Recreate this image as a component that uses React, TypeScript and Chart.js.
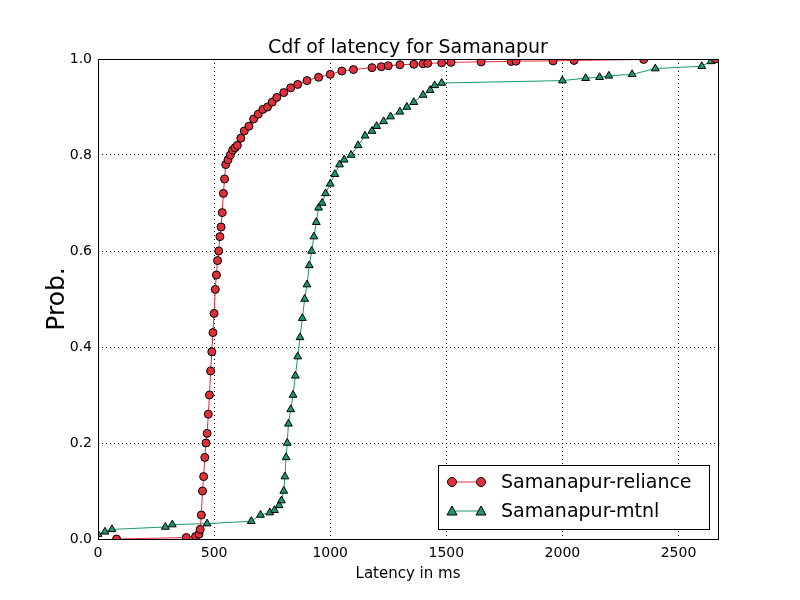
import React, { useEffect, useRef } from "react";
import { Chart, registerables } from "chart.js";
Chart.register(...registerables);

const relianceX = [80,380,420,435,440,445,450,455,460,465,470,475,480,485,490,495,500,505,510,515,520,525,530,535,540,545,550,560,570,580,590,600,615,630,650,670,690,710,730,750,770,800,830,860,900,950,1000,1050,1100,1180,1220,1250,1300,1360,1400,1420,1480,1520,1650,1780,1800,1960,2050,2350,2660];
const relianceY = [0,0.003,0.005,0.01,0.02,0.05,0.1,0.13,0.17,0.2,0.22,0.26,0.3,0.35,0.39,0.43,0.47,0.52,0.55,0.58,0.6,0.63,0.65,0.68,0.72,0.75,0.78,0.79,0.8,0.81,0.815,0.82,0.835,0.85,0.86,0.875,0.885,0.895,0.9,0.91,0.92,0.93,0.94,0.947,0.955,0.962,0.968,0.975,0.978,0.982,0.984,0.986,0.988,0.989,0.99,0.991,0.992,0.993,0.994,0.995,0.9955,0.996,0.997,0.999,1.0];
const mtnlX = [0,30,60,290,320,470,660,700,740,760,780,790,800,805,810,815,820,830,840,850,860,870,880,890,900,910,920,930,940,950,965,980,1000,1020,1040,1060,1090,1120,1150,1180,1200,1230,1260,1300,1330,1360,1400,1430,1450,1480,2000,2100,2160,2200,2300,2400,2600,2640,2660];
const mtnlY = [0.01,0.015,0.02,0.025,0.03,0.032,0.037,0.05,0.055,0.06,0.07,0.08,0.1,0.13,0.17,0.2,0.24,0.27,0.3,0.34,0.38,0.42,0.46,0.5,0.53,0.57,0.6,0.63,0.66,0.69,0.7,0.72,0.74,0.76,0.78,0.79,0.8,0.82,0.84,0.85,0.86,0.87,0.88,0.89,0.9,0.91,0.925,0.935,0.945,0.95,0.955,0.96,0.962,0.965,0.968,0.98,0.985,0.995,1.0];
const xTicks = [0,500,1000,1500,2000,2500];
const RED = "#e0303c";
const GREEN = "#1a9a6a";
const FONT = "'DejaVu Sans', sans-serif";

const toPts = (xs: number[], ys: number[]) => xs.map((x, i) => ({ x, y: ys[i] }));

const overlay = {
  id: "overlay",
  afterDraw(chart: any) {
    const ctx = chart.ctx;
    const a = chart.chartArea;
    ctx.save();
    ctx.fillStyle = "#000";
    ctx.font = `19px ${FONT}`;
    ctx.textAlign = "center";
    ctx.textBaseline = "alphabetic";
    ctx.fillText("Cdf of latency for Samanapur", (a.left + a.right) / 2, 53);
    ctx.strokeStyle = "#000";
    ctx.lineWidth = 1;
    ctx.strokeRect(a.left + 0.5, a.top + 0.5, a.right - a.left, a.bottom - a.top);
    const lx = 438, ly = 465, lw = 271, lh = 64;
    ctx.fillStyle = "#fff";
    ctx.fillRect(lx, ly, lw, lh);
    ctx.strokeRect(lx + 0.5, ly + 0.5, lw, lh);
    const items = [
      { label: "Samanapur-reliance", color: RED, shape: "circle", y: 482 },
      { label: "Samanapur-mtnl", color: GREEN, shape: "triangle", y: 511 },
    ];
    for (const it of items) {
      ctx.strokeStyle = it.color;
      ctx.beginPath();
      ctx.moveTo(452, it.y);
      ctx.lineTo(481, it.y);
      ctx.stroke();
      for (const mx of [452, 481]) {
        ctx.fillStyle = it.color;
        ctx.strokeStyle = "#000";
        ctx.beginPath();
        if (it.shape === "circle") ctx.arc(mx, it.y, 4.5, 0, Math.PI * 2);
        else { ctx.moveTo(mx, it.y - 5); ctx.lineTo(mx + 5, it.y + 4); ctx.lineTo(mx - 5, it.y + 4); ctx.closePath(); }
        ctx.fill();
        ctx.stroke();
      }
      ctx.fillStyle = "#000";
      ctx.font = `19px ${FONT}`;
      ctx.textAlign = "left";
      ctx.textBaseline = "middle";
      ctx.fillText(it.label, 501, it.y + 1);
    }
    ctx.restore();
  },
};

export default function App() {
  const ref = useRef<HTMLCanvasElement>(null);
  useEffect(() => {
    document.body.style.margin = "0";
    const chart = new Chart(ref.current!, {
      type: "line",
      data: {
        datasets: [
          { label: "Samanapur-reliance", data: toPts(relianceX, relianceY), borderColor: RED, backgroundColor: RED, pointBorderColor: "#000", pointRadius: 4, pointBorderWidth: 1, borderWidth: 1, pointStyle: "circle" },
          { label: "Samanapur-mtnl", data: toPts(mtnlX, mtnlY), borderColor: GREEN, backgroundColor: GREEN, pointBorderColor: "#000", pointRadius: 4.5, pointBorderWidth: 1, borderWidth: 1, pointStyle: "triangle" },
        ],
      },
      options: {
        animation: false,
        responsive: false,
        layout: { padding: { top: 59, right: 82, left: 38, bottom: 13 } },
        plugins: { legend: { display: false }, tooltip: { enabled: false } },
        scales: {
          x: {
            type: "linear", min: 0, max: 2670,
            afterBuildTicks: (s: any) => { s.ticks = xTicks.map((v) => ({ value: v })); },
            afterFit: (s: any) => { s.height = 48; },
            grid: { color: "#000", drawTicks: false },
            border: { display: false, dash: [1, 3] },
            ticks: { color: "#000", font: { family: FONT, size: 14 }, padding: 6, callback: (v: any) => String(v) },
            title: { display: true, text: "Latency in ms", color: "#000", font: { family: FONT, size: 15 }, padding: { top: 2 } },
          },
          y: {
            min: 0, max: 1,
            afterFit: (s: any) => { s.width = 60; },
            grid: { color: "#000", drawTicks: false },
            border: { display: false, dash: [1, 3] },
            ticks: { stepSize: 0.2, color: "#000", font: { family: FONT, size: 14 }, padding: 6, callback: (v: any) => Number(v).toFixed(1) },
            title: { display: true, text: "Prob.", color: "#000", font: { family: FONT, size: 25 }, padding: { bottom: 0 } },
          },
        },
      },
      plugins: [overlay],
    });
    return () => chart.destroy();
  }, []);
  return <canvas ref={ref} width={800} height={600} style={{ display: "block" }} />;
}
